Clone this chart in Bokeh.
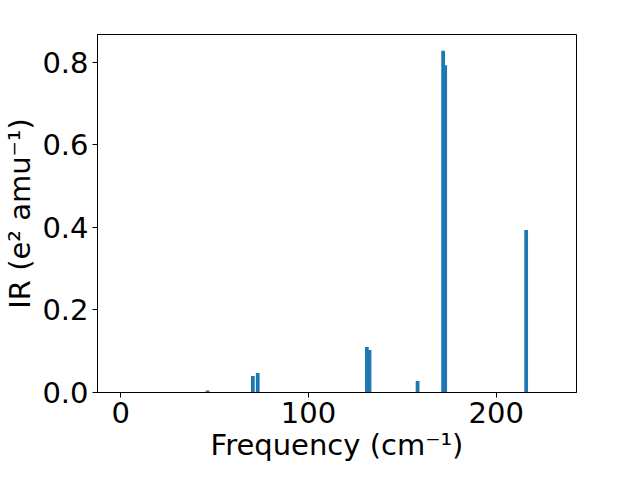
from bokeh.plotting import figure
from bokeh.models import Range1d, FixedTicker
from bokeh.embed import file_html
from bokeh.resources import INLINE

# Vibrational modes: frequency (cm^-1) and IR intensity
freq = [46.3, 70.4, 73.0, 131.1, 132.5, 158.1, 171.7, 172.8, 215.9]
intensity = [0.005, 0.040, 0.047, 0.110, 0.103, 0.028, 0.828, 0.793, 0.394]
x_ticks = [0, 100, 200]
y_ticks = [0.0, 0.2, 0.4, 0.6, 0.8]

p = figure(width=624, height=464, output_backend="svg", toolbar_location=None,
           x_range=Range1d(-12.3, 242.7), y_range=Range1d(0, 0.8675),
           min_border_top=34, min_border_right=48, min_border_left=0, min_border_bottom=0)

p.vbar(x=freq, top=intensity, width=2.0, color="#1f77b4", line_color=None)

p.xgrid.visible = False
p.ygrid.visible = False
p.outline_line_color = "black"
p.outline_line_width = 1
p.background_fill_color = "white"
p.border_fill_color = "white"

for ax in (p.xaxis[0], p.yaxis[0]):
    ax.major_label_text_font = "DejaVu Sans"
    ax.major_label_text_font_size = "29px"
    ax.major_label_text_color = "black"
    ax.axis_label_text_font = "DejaVu Sans"
    ax.axis_label_text_font_size = "29px"
    ax.axis_label_text_font_style = "normal"
    ax.axis_label_text_color = "black"
    ax.axis_line_color = "black"
    ax.major_tick_line_color = "black"
    ax.major_tick_in = 0
    ax.major_tick_out = 5
    ax.minor_tick_line_color = None
    ax.major_label_standoff = 4
    ax.axis_label_standoff = 2

p.xaxis[0].ticker = FixedTicker(ticks=x_ticks)
p.yaxis[0].ticker = FixedTicker(ticks=y_ticks)
p.yaxis[0].major_label_overrides = {t: f"{t:.1f}" for t in y_ticks}
p.xaxis[0].axis_label = "Frequency (cm⁻¹)"
p.yaxis[0].axis_label = "IR (e² amu⁻¹)"

open("out.html", "w").write(file_html(p, INLINE))
